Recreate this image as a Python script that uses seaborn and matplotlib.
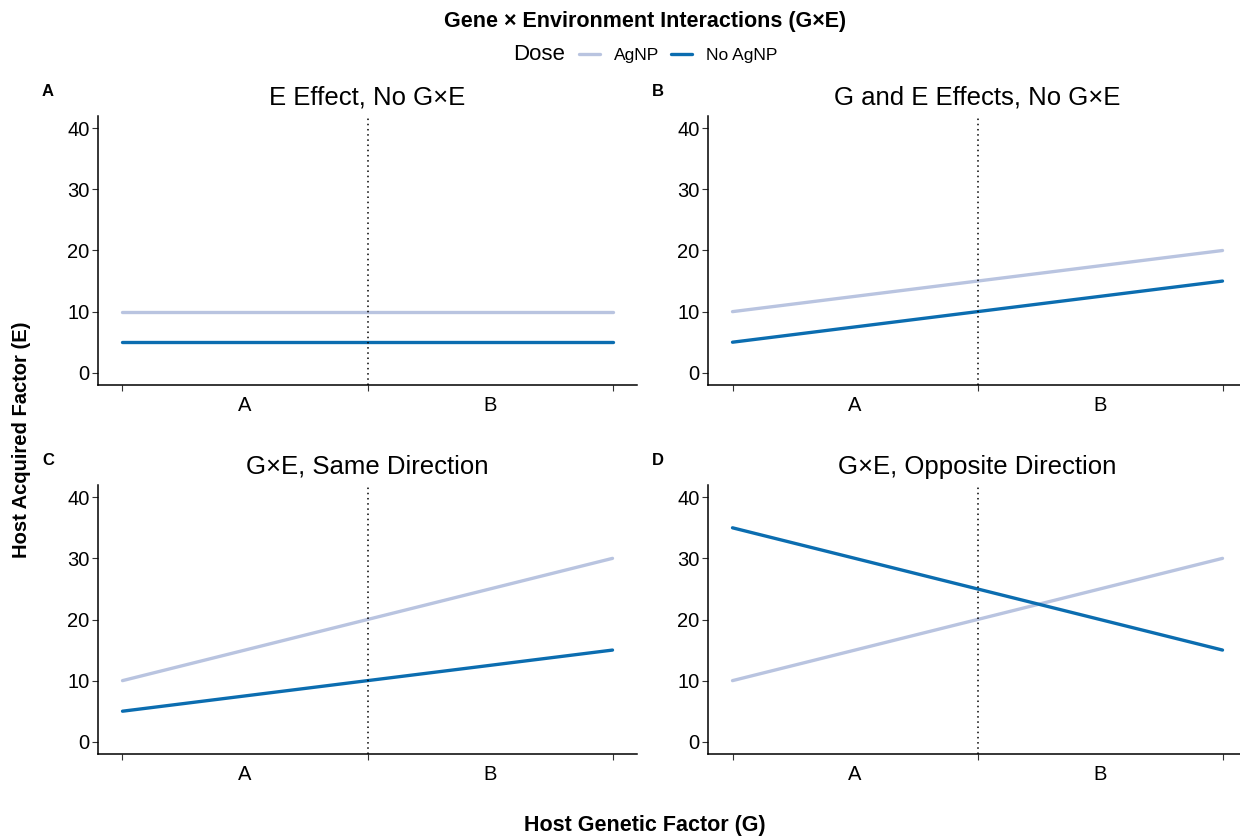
import matplotlib
matplotlib.use("Agg")
import matplotlib.pyplot as plt
from matplotlib.lines import Line2D
from matplotlib.offsetbox import HPacker
import seaborn as sns
import pandas as pd

sns.set_theme(style="ticks")
plt.rcParams["font.family"] = ["Liberation Sans", "DejaVu Sans"]
plt.rcParams["text.color"] = "black"
plt.rcParams["axes.labelcolor"] = "black"

# Genotype positions (0 = start of A, 1 = A/B boundary, 2 = end of B)
g_pos = [0, 1, 2]
genotype_labels = ["A", "B"]
dose_levels = ["AgNP", "No AgNP"]
dose_colors = ["#b9c4e0", "#0b6db0"]

panel_letters = ["A", "B", "C", "D"]
panel_titles = [
    "E Effect, No G×E",
    "G and E Effects, No G×E",
    "G×E, Same Direction",
    "G×E, Opposite Direction",
]

# Host acquired factor for each dose along the genotype axis
agnp_a = [10, 10, 10]
noagnp_a = [5, 5, 5]
agnp_b = [10, 15, 20]
noagnp_b = [5, 10, 15]
agnp_c = [10, 20, 30]
noagnp_c = [5, 10, 15]
agnp_d = [10, 20, 30]
noagnp_d = [35, 25, 15]

panel_values = [
    (agnp_a, noagnp_a),
    (agnp_b, noagnp_b),
    (agnp_c, noagnp_c),
    (agnp_d, noagnp_d),
]

y_ticks = [0, 10, 20, 30, 40]

W, H = 1240, 840
fig = plt.figure(figsize=(W / 100, H / 100), dpi=100)

# axes boxes in pixels: left, top, width, height
boxes = [
    (98, 116, 539, 269),
    (708, 116, 539, 269),
    (98, 485, 539, 269),
    (708, 485, 539, 269),
]

palette = dict(zip(dose_levels, dose_colors))

for i, ((l, t, w, h), (ag, noag)) in enumerate(zip(boxes, panel_values)):
    ax = fig.add_axes([l / W, 1 - (t + h) / H, w / W, h / H])
    df = pd.DataFrame({
        "G": g_pos * 2,
        "E": ag + noag,
        "Dose": [dose_levels[0]] * 3 + [dose_levels[1]] * 3,
    })
    sns.lineplot(data=df, x="G", y="E", hue="Dose", palette=palette,
                 hue_order=dose_levels, linewidth=2.4, ax=ax, legend=False)
    ax.axvline(1, color="black", linestyle=(0, (1, 2.4)), linewidth=1.1)
    ax.set_xlim(-0.1, 2.1)
    ax.set_ylim(-2, 42)
    ax.set_yticks(y_ticks)
    ax.set_xticks(g_pos)
    ax.set_xticklabels([])
    ax.set_xticks([0.5, 1.5], minor=True)
    ax.set_xticklabels(genotype_labels, minor=True)
    ax.tick_params(axis="x", which="minor", length=0, pad=8, labelsize=14.5,
                   labelcolor="black")
    ax.tick_params(axis="both", which="major", length=4, width=0.8,
                   color="#333333", labelsize=14.5, labelcolor="black")
    ax.tick_params(axis="y", pad=2)
    ax.set_xlabel("")
    ax.set_ylabel("")
    for s in ["top", "right"]:
        ax.spines[s].set_visible(False)
    for s in ["left", "bottom"]:
        ax.spines[s].set_color("black")
        ax.spines[s].set_linewidth(1.1)
    ax.set_title(panel_titles[i], fontsize=18.5, pad=8, color="black")
    fig.text((l - 50) / W, 1 - (t - 25) / H, panel_letters[i],
             fontsize=12, fontweight="bold", ha="center", va="center",
             color="black")

fig.text(645 / W, 1 - 22 / H, "Gene × Environment Interactions (G×E)",
         fontsize=15.5, fontweight="bold", ha="center", va="center",
         color="black")

handles = [Line2D([0], [0], color=c, linewidth=2.4) for c in dose_colors]
leg = fig.legend(handles, dose_levels, title="Dose", loc="center",
                 bbox_to_anchor=(645 / W, 1 - 55 / H), ncol=2, frameon=False,
                 fontsize=12.5, title_fontsize=16, handlelength=1.2,
                 handletextpad=0.8, columnspacing=0.7, labelcolor="black")
leg.get_title().set_color("black")
# put the legend title to the left of the keys
title_box = leg._legend_title_box
body = leg._legend_handle_box
leg._legend_box._children = [HPacker(children=[title_box, body], pad=0,
                                     sep=10, align="center")]

fig.text(645 / W, 1 - 826 / H, "Host Genetic Factor (G)",
         fontsize=15.5, fontweight="bold", ha="center", va="center",
         color="black")
fig.text(22 / W, 1 - 440 / H, "Host Acquired Factor (E)",
         fontsize=14.5, fontweight="bold", ha="center", va="center",
         rotation=90, color="black")

fig.savefig("out.png", dpi=100, facecolor="white")
